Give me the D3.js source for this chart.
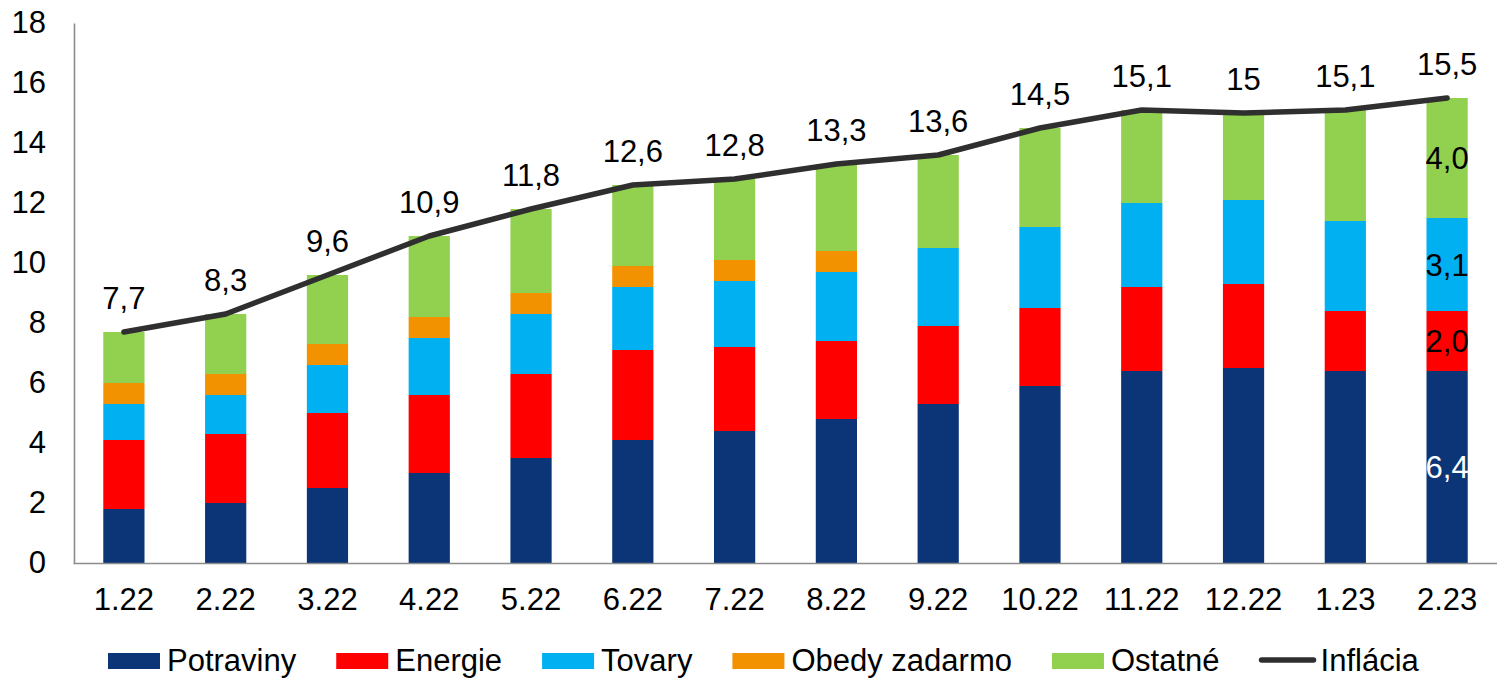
<!DOCTYPE html>
<html>
<head>
<meta charset="utf-8">
<script src="https://cdn.jsdelivr.net/npm/d3@7"></script>
<style>
  html, body { margin: 0; padding: 0; background: #fff; }
  svg { display: block; }
  text { font-family: "Liberation Sans", Arial, sans-serif; }
</style>
</head>
<body>
<svg id="chart"></svg>
<script>
// data
const mesiace = ["1.22","2.22","3.22","4.22","5.22","6.22","7.22","8.22","9.22","10.22","11.22","12.22","1.23","2.23"];
const potraviny = [1.8, 2.0, 2.5, 3.0, 3.5, 4.1, 4.4, 4.8, 5.3, 5.9, 6.4, 6.5, 6.4, 6.4];
const energie   = [2.3, 2.3, 2.5, 2.6, 2.8, 3.0, 2.8, 2.6, 2.6, 2.6, 2.8, 2.8, 2.0, 2.0];
const tovary    = [1.2, 1.3, 1.6, 1.9, 2.0, 2.1, 2.2, 2.3, 2.6, 2.7, 2.8, 2.8, 3.0, 3.1];
const obedy     = [0.7, 0.7, 0.7, 0.7, 0.7, 0.7, 0.7, 0.7, 0, 0, 0, 0, 0, 0];
const ostatne   = [1.7, 2.0, 2.3, 2.7, 2.8, 2.7, 2.7, 2.9, 3.1, 3.3, 3.1, 2.9, 3.7, 4.0];
const inflacia  = [7.7, 8.3, 9.6, 10.9, 11.8, 12.6, 12.8, 13.3, 13.6, 14.5, 15.1, 15, 15.1, 15.5];
const inflLabels = ["7,7","8,3","9,6","10,9","11,8","12,6","12,8","13,3","13,6","14,5","15,1","15","15,1","15,5"];
const serie = ["Potraviny", "Energie", "Tovary", "Obedy zadarmo", "Ostatné"];
const yTicks = [0, 2, 4, 6, 8, 10, 12, 14, 16, 18];

const farby = ["#0b3577", "#ff0000", "#00b0f0", "#f39200", "#92d050"];
const farbaLinie = "#2f2f2f";

const W = 1497, H = 679;
const fs = 31;

const svg = d3.select("#chart")
    .attr("width", W)
    .attr("height", H)
    .attr("viewBox", [0, 0, W, H]);

const rows = mesiace.map((m, i) => ({
    mesiac: m,
    "Potraviny": potraviny[i],
    "Energie": energie[i],
    "Tovary": tovary[i],
    "Obedy zadarmo": obedy[i],
    "Ostatné": ostatne[i]
}));

const stack = d3.stack().keys(serie)(rows);

const x = d3.scaleBand()
    .domain(mesiace)
    .range([73, 1498])
    .paddingInner(0.595)
    .paddingOuter(0.2975);

const y = d3.scaleLinear()
    .domain([0, 18])
    .range([563, 23]);

// bars
svg.append("g")
  .selectAll("g")
  .data(stack)
  .join("g")
    .attr("fill", (d, i) => farby[i])
  .selectAll("rect")
  .data(d => d)
  .join("rect")
    .attr("x", d => x(d.data.mesiac))
    .attr("width", x.bandwidth())
    .attr("y", d => y(d[1]))
    .attr("height", d => y(d[0]) - y(d[1]));

// y axis
const yAxis = svg.append("g")
    .attr("transform", "translate(74,0)")
    .call(d3.axisLeft(y).tickValues(yTicks).tickSize(0).tickSizeOuter(0).tickPadding(28));
yAxis.select(".domain").attr("stroke", "#8c8c8c").attr("stroke-width", 1.6);
yAxis.selectAll("text")
    .attr("font-size", fs)
    .attr("fill", "#000")
    .attr("font-family", "'Liberation Sans', Arial, sans-serif");

// x axis
const xAxis = svg.append("g")
    .attr("transform", `translate(0,${y(0)})`)
    .call(d3.axisBottom(x).tickSize(0).tickSizeOuter(0).tickPadding(25));
xAxis.select(".domain").attr("stroke", "#8c8c8c").attr("stroke-width", 1.6);
xAxis.selectAll("text")
    .attr("font-size", fs)
    .attr("fill", "#000")
    .attr("font-family", "'Liberation Sans', Arial, sans-serif");

// inflation line
const cx = m => x(m) + x.bandwidth() / 2;
const line = d3.line()
    .x((d, i) => cx(mesiace[i]))
    .y(d => y(d));

svg.append("path")
    .datum(inflacia)
    .attr("fill", "none")
    .attr("stroke", farbaLinie)
    .attr("stroke-width", 5.5)
    .attr("stroke-linejoin", "round")
    .attr("stroke-linecap", "round")
    .attr("d", line);

svg.append("g")
  .selectAll("text")
  .data(inflacia)
  .join("text")
    .attr("x", (d, i) => cx(mesiace[i]))
    .attr("y", d => y(d) - 23)
    .attr("text-anchor", "middle")
    .attr("font-size", fs)
    .attr("fill", "#000")
    .text((d, i) => inflLabels[i]);

// segment labels on the last bar
const last = mesiace.length - 1;
svg.append("g")
  .selectAll("text")
  .data(stack.filter(s => s[last][1] - s[last][0] > 0))
  .join("text")
    .attr("x", cx(mesiace[last]))
    .attr("y", s => (y(s[last][0]) + y(s[last][1])) / 2)
    .attr("dy", "0.36em")
    .attr("text-anchor", "middle")
    .attr("font-size", fs)
    .attr("fill", s => s.key === "Potraviny" ? "#fff" : "#000")
    .text(s => d3.format(".1f")(s[last][1] - s[last][0]).replace(".", ","));

// legend
const legend = svg.append("g");
let lx = 108;
const items = serie.map((s, i) => ({ name: s, color: farby[i], type: "rect" }))
    .concat([{ name: "Inflácia", color: farbaLinie, type: "line" }]);

items.forEach(it => {
    if (it.type === "rect") {
        legend.append("rect")
            .attr("x", lx)
            .attr("y", 653)
            .attr("width", 52)
            .attr("height", 16)
            .attr("fill", it.color);
        lx += 59;
    } else {
        legend.append("line")
            .attr("x1", lx + 2)
            .attr("x2", lx + 54)
            .attr("y1", 660)
            .attr("y2", 660)
            .attr("stroke", it.color)
            .attr("stroke-width", 5.5)
            .attr("stroke-linecap", "round");
        lx += 61;
    }
    const t = legend.append("text")
        .attr("x", lx)
        .attr("y", 671)
        .attr("font-size", fs)
        .attr("fill", "#000")
        .text(it.name);
    lx += t.node().getComputedTextLength() + 40;
});
</script>
</body>
</html>
